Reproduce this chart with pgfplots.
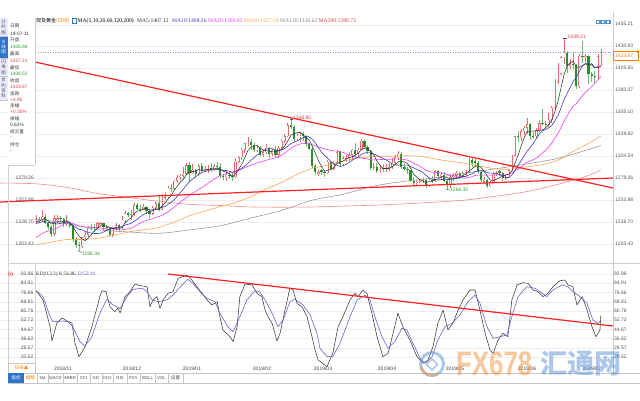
\documentclass[border=0pt]{standalone}
\usepackage{pgfplots}
\pgfplotsset{compat=1.18}
\usepackage{pgfplotstable}
\usepackage{fontspec}
\setmainfont{Liberation Sans}
\newfontfamily\cjk{Noto Sans CJK SC}
\newfontfamily\srf{Liberation Serif}
\newcommand\fs[1]{\fontsize{#1}{#1}\selectfont}
\definecolor{upc}{HTML}{E86A6A}
\definecolor{dnc}{HTML}{2E8B2E}
\definecolor{dnw}{HTML}{6DBB6D}
\definecolor{ma5}{HTML}{333333}
\definecolor{ma10}{HTML}{3C3CB4}
\definecolor{ma20}{HTML}{F03CF0}
\definecolor{ma60}{HTML}{FFA550}
\definecolor{ma120}{HTML}{9A9A9A}
\definecolor{ma200}{HTML}{F08C8C}
\definecolor{trend}{HTML}{FF2020}
\definecolor{kc}{HTML}{3A3A3A}
\definecolor{dc}{HTML}{5A5AD0}
\definecolor{lbl}{HTML}{555555}
\definecolor{tabblue}{HTML}{2F74C9}
\definecolor{hi}{HTML}{E03C3C}
\definecolor{lo}{HTML}{2E9E2E}
\definecolor{wmo}{HTML}{F39A4B}
\definecolor{wmb}{HTML}{5B8FD6}

\pgfplotstableread{
i o h l c
0 1231 1237 1226 1232
1 1230 1235 1227 1232
2 1232 1243 1229 1235
6 1215 1237 1213 1233
7 1231 1237 1227 1233
10 1226 1237 1224 1227
15 1201 1212 1199 1211
16 1211 1217 1207 1214
17 1214 1224 1212 1222
18 1222 1226 1219 1223
20 1222 1229 1221 1227
21 1225 1229 1224 1227
25 1214 1223 1211 1221
26 1221 1228 1219 1225
28 1222 1236 1221 1231
29 1231 1241 1228 1239
31 1237 1242 1231 1238
32 1238 1250 1236 1248
35 1243 1249 1242 1246
38 1238 1247 1237 1245
39 1245 1252 1244 1250
41 1243 1261 1242 1258
43 1257 1270 1256 1268
45 1267 1277 1265 1276
46 1276 1283 1274 1280
47 1280 1284 1277 1282
48 1282 1292 1279 1284
49 1284 1296 1283 1294
51 1285 1295 1284 1289
53 1284 1295 1282 1293
55 1288 1293 1286 1289
56 1289 1294 1285 1291
58 1288 1295 1287 1293
62 1280 1288 1276 1283
65 1280 1302 1279 1298
66 1298 1305 1296 1303
67 1303 1314 1300 1312
68 1312 1320 1308 1319
69 1319 1326 1316 1321
72 1311 1317 1309 1314
74 1306 1311 1303 1309
75 1309 1318 1307 1314
77 1307 1313 1305 1311
79 1306 1316 1302 1314
80 1314 1324 1311 1322
81 1322 1330 1320 1327
82 1327 1342 1326 1340
85 1324 1331 1322 1328
86 1326 1332 1321 1328
92 1284 1288 1281 1286
95 1285 1300 1284 1298
97 1290 1299 1289 1297
98 1297 1311 1295 1309
100 1295 1305 1293 1302
101 1300 1306 1298 1302
102 1302 1309 1299 1306
103 1306 1313 1300 1312
105 1307 1314 1304 1312
106 1312 1324 1311 1322
110 1291 1297 1289 1292
112 1287 1294 1285 1291
114 1290 1295 1286 1291
115 1291 1296 1287 1292
116 1292 1302 1290 1297
117 1297 1306 1295 1303
118 1303 1310 1300 1307
124 1273 1277 1270 1275
125 1275 1277 1273 1276
126 1276 1279 1273 1277
128 1270 1278 1269 1277
130 1276 1288 1275 1287
132 1281 1286 1278 1283
135 1271 1283 1268 1280
136 1280 1285 1276 1282
137 1282 1287 1280 1285
139 1281 1287 1279 1284
140 1284 1289 1282 1286
141 1286 1302 1285 1300
146 1275 1280 1274 1277
148 1270 1276 1269 1274
149 1274 1286 1273 1284
150 1284 1287 1281 1285
153 1279 1284 1277 1280
154 1280 1290 1279 1288
155 1288 1306 1287 1305
156 1305 1328 1304 1327
158 1326 1336 1322 1333
159 1333 1339 1329 1337
160 1337 1348 1330 1341
163 1327 1337 1325 1334
164 1334 1346 1332 1342
167 1340 1354 1338 1346
168 1346 1362 1343 1360
169 1360 1393 1357 1390
170 1390 1411 1387 1399
171 1399 1419 1398 1418
172 1418 1439.21 1410 1423
174 1408 1416 1404 1410
177 1385 1422 1383 1420
179 1418 1422 1413 1420
183 1396 1422 1393 1419
184 1408.86 1427.21 1408.52 1423.97
}\tup

\pgfplotstableread{
i o h l c
3 1235 1238 1226 1228
4 1228 1230 1220 1223
5 1223 1225 1211 1215
8 1233 1236 1229 1232
9 1232 1233 1223 1226
11 1227 1229 1222 1224
12 1224 1225 1206 1209
13 1209 1211 1199 1202
14 1202 1206 1196.34 1201
19 1223 1226 1217 1222
22 1227 1228 1220 1223
23 1223 1225 1219 1222
24 1222 1223 1211 1214
27 1225 1226 1218 1222
30 1239 1240 1234 1237
33 1248 1250 1242 1244
34 1244 1248 1240 1243
36 1246 1247 1238 1241
37 1241 1244 1233 1238
40 1250 1259 1241 1243
42 1258 1263 1254 1257
44 1268 1272 1263 1267
50 1294 1298 1276 1285
52 1289 1290 1279 1284
54 1293 1296 1286 1288
57 1291 1296 1286 1288
59 1293 1298 1289 1292
60 1292 1296 1279 1282
61 1282 1284 1277 1280
63 1283 1286 1278 1282
64 1282 1286 1276 1280
70 1321 1324 1311 1317
71 1317 1319 1309 1311
73 1314 1316 1304 1306
76 1314 1315 1302 1307
78 1311 1316 1303 1306
83 1340 1346.80 1336 1338
84 1338 1340 1321 1324
87 1330 1332 1322 1328
88 1328 1329 1315 1318
89 1318 1320 1311 1313
90 1313 1315 1291 1293
91 1293 1295 1283 1286
93 1288 1290 1283 1286
94 1286 1289 1280 1285
96 1298 1299 1288 1290
99 1309 1310 1292 1295
104 1312 1320 1303 1307
107 1322 1324 1313 1315
108 1315 1317 1307 1310
109 1310 1311 1288 1291
111 1292 1296 1285 1287
113 1291 1295 1286 1290
119 1307 1309 1290 1292
120 1292 1297 1289 1290
121 1290 1292 1284 1288
122 1288 1289 1275 1276
123 1276 1280 1271 1273
127 1277 1278 1268 1270
129 1277 1281 1273 1276
131 1287 1289 1279 1281
133 1283 1286 1275 1276
134 1276 1278 1266.35 1271
138 1285 1286 1278 1281
142 1300 1303 1292 1297
143 1299 1301 1292 1297
144 1297 1299 1284 1286
145 1286 1288 1275 1277
147 1277 1278 1268 1270
151 1287 1288 1282 1285
152 1285 1286 1276 1279
157 1327 1333 1321 1326
161 1341 1342 1323 1328
162 1328 1332 1324 1327
165 1342 1358 1340 1341
166 1341 1345 1337 1340
173 1423 1425 1400 1408
175 1410 1424 1405 1409
176 1409 1410 1382 1385
178 1420 1437 1411 1418
180 1420 1421 1387 1399
181 1399 1401 1390 1397
182 1397 1402 1388 1396
}\tdn

\pgfplotstableread{
i m5 m10 m20
0 1228.8 1227.0 1210.65
1 1229.8 1227.8 1213.15
2 1231.4 1229.1 1215.3
3 1232.6 1228.8 1217.3
4 1230.0 1228.5 1218.25
5 1226.6 1227.7 1218.9
6 1226.8 1228.3 1220.5
7 1226.4 1228.9 1222.0
8 1227.2 1229.9 1224.15
9 1227.8 1228.9 1226.05
10 1230.2 1228.4 1227.7
11 1228.4 1227.6 1227.7
12 1223.6 1225.0 1227.05
13 1217.6 1222.4 1225.6
14 1212.6 1220.2 1224.35
15 1209.4 1219.8 1223.75
16 1207.4 1217.9 1223.1
17 1210.0 1216.8 1222.85
18 1214.2 1215.9 1222.9
19 1218.4 1215.5 1222.2
20 1221.6 1215.5 1221.95
21 1224.2 1215.8 1221.7
22 1224.4 1217.2 1221.1
23 1224.2 1219.2 1220.8
24 1222.6 1220.5 1220.35
25 1221.4 1221.5 1220.65
26 1221.0 1222.6 1220.25
27 1220.8 1222.6 1219.7
28 1222.6 1223.4 1219.65
29 1227.6 1225.1 1220.3
30 1230.8 1226.1 1220.8
31 1233.4 1227.2 1221.5
32 1238.6 1229.7 1223.45
33 1241.2 1231.9 1225.55
34 1242.0 1234.8 1227.65
35 1243.8 1237.3 1229.4
36 1244.4 1238.9 1230.75
37 1242.4 1240.5 1231.55
38 1242.6 1241.9 1232.65
39 1244.0 1243.0 1234.05
40 1243.4 1243.6 1234.85
41 1246.8 1245.6 1236.4
42 1250.6 1246.5 1238.1
43 1255.2 1248.9 1240.4
44 1258.6 1251.3 1243.05
45 1265.2 1254.3 1245.8
46 1269.6 1258.2 1248.55
47 1274.6 1262.6 1251.55
48 1277.8 1266.5 1254.2
49 1283.2 1270.9 1256.95
50 1285.0 1275.1 1259.35
51 1286.8 1278.2 1261.9
52 1287.2 1280.9 1263.7
53 1289.0 1283.4 1266.15
54 1287.8 1285.5 1268.4
55 1288.6 1286.8 1270.55
56 1289.0 1287.9 1273.05
57 1289.8 1288.5 1275.55
58 1289.8 1289.4 1277.95
59 1290.6 1289.2 1280.05
60 1289.2 1288.9 1282.0
61 1287.0 1288.0 1283.1
62 1286.0 1287.9 1284.4
63 1283.8 1286.8 1285.1
64 1281.4 1286.0 1285.75
65 1284.6 1286.9 1286.85
66 1289.2 1288.1 1288.0
67 1295.0 1290.5 1289.5
68 1302.4 1293.1 1291.25
69 1310.6 1296.0 1292.6
70 1314.4 1299.5 1294.2
71 1316.0 1302.6 1295.3
72 1316.4 1305.7 1296.8
73 1313.8 1308.1 1297.45
74 1311.4 1311.0 1298.5
75 1310.8 1312.6 1299.75
76 1310.0 1313.0 1300.55
77 1309.4 1312.9 1301.7
78 1309.4 1311.6 1302.35
79 1310.4 1310.9 1303.45
80 1312.0 1311.4 1305.45
81 1316.0 1313.0 1307.8
82 1321.8 1315.6 1310.65
83 1328.2 1318.8 1313.45
84 1330.2 1320.3 1315.65
85 1331.4 1321.7 1317.15
86 1331.6 1323.8 1318.4
87 1329.2 1325.5 1319.2
88 1325.2 1326.7 1319.15
89 1323.0 1326.6 1318.75
90 1316.0 1323.7 1317.55
91 1307.6 1319.6 1316.3
92 1299.2 1314.2 1314.9
93 1292.8 1309.0 1313.9
94 1287.2 1305.1 1312.7
95 1288.2 1302.1 1311.9
96 1289.0 1298.3 1311.05
97 1291.2 1295.2 1310.35
98 1295.8 1294.3 1310.5
99 1297.8 1292.5 1309.55
100 1298.6 1293.4 1308.55
101 1301.0 1295.0 1307.3
102 1302.8 1297.0 1305.6
103 1303.4 1299.6 1304.3
104 1305.8 1301.8 1303.45
105 1307.8 1303.2 1302.65
106 1311.8 1306.4 1302.35
107 1313.6 1308.2 1301.7
108 1313.2 1308.3 1301.3
109 1310.0 1307.9 1300.2
110 1306.0 1306.9 1300.15
111 1299.0 1305.4 1300.2
112 1294.2 1303.9 1300.45
113 1290.2 1301.7 1300.65
114 1290.2 1300.1 1300.95
115 1290.2 1298.1 1300.65
116 1292.2 1295.6 1301.0
117 1294.6 1294.4 1301.3
118 1298.0 1294.1 1301.2
119 1298.2 1294.2 1301.05
120 1297.8 1294.0 1300.45
121 1296.0 1294.1 1299.75
122 1290.6 1292.6 1298.25
123 1283.8 1290.9 1296.3
124 1280.4 1289.3 1294.7
125 1277.6 1287.7 1292.9
126 1275.4 1285.7 1290.65
127 1274.2 1282.4 1288.4
128 1275.0 1279.4 1286.75
129 1275.2 1277.8 1286.0
130 1277.4 1277.5 1285.75
131 1278.2 1276.8 1285.45
132 1280.8 1277.5 1285.05
133 1280.6 1277.8 1284.35
134 1279.6 1277.4 1283.35
135 1278.2 1277.8 1282.75
136 1278.4 1278.3 1282.0
137 1278.8 1279.8 1281.1
138 1279.8 1280.2 1279.8
139 1282.4 1281.0 1279.4
140 1283.6 1280.9 1279.2
141 1287.2 1282.8 1279.8
142 1289.6 1284.2 1280.85
143 1292.8 1286.3 1282.05
144 1293.2 1287.8 1282.6
145 1291.4 1287.5 1282.65
146 1286.8 1287.0 1282.65
147 1281.4 1285.5 1282.65
148 1276.8 1284.8 1282.5
149 1276.4 1284.8 1282.9
150 1278.0 1284.7 1282.8
151 1279.6 1283.2 1283.0
152 1281.4 1281.4 1282.8
153 1282.6 1279.7 1283.0
154 1283.4 1279.9 1283.85
155 1287.4 1282.7 1285.1
156 1295.8 1287.7 1287.35
157 1305.2 1293.3 1289.4
158 1315.8 1299.2 1292.0
159 1325.6 1304.5 1294.65
160 1332.8 1310.1 1297.4
161 1333.0 1314.4 1298.8
162 1333.2 1319.2 1300.3
163 1333.4 1324.6 1302.15
164 1334.4 1330.0 1304.95
165 1334.4 1333.6 1308.15
166 1336.8 1334.9 1311.3
167 1340.6 1336.9 1315.1
168 1345.8 1339.6 1319.4
169 1355.4 1344.9 1324.7
170 1367.0 1350.7 1330.4
171 1382.6 1359.7 1337.05
172 1398.0 1369.3 1344.25
173 1407.6 1376.7 1350.65
174 1411.6 1383.5 1356.75
175 1413.6 1390.3 1361.95
176 1407.0 1394.8 1364.85
177 1406.4 1402.2 1369.55
178 1408.4 1408.0 1373.8
179 1410.4 1411.0 1377.95
180 1408.4 1411.0 1380.85
181 1410.8 1408.9 1384.3
182 1406.0 1406.2 1387.75
183 1406.2 1407.3 1392.0
184 1407.12 1408.26 1396.05
}\tma

\pgfplotsset{candle/.style={draw=none, mark=none, forget plot, error bars/.cd, y dir=plus, y explicit, error mark=none}}

\begin{document}
\begin{tikzpicture}
\useasboundingbox (0pt,0pt) rectangle (640pt,400pt);

% ---------------- main price panel ----------------
\begin{axis}[at={(0pt,140pt)}, anchor=south west, width=613pt, height=248pt, scale only axis,
  xmin=-11.73, xmax=187.95, ymin=1185.04, ymax=1470.02,
  axis line style={draw=none}, xtick=\empty,
  ytick={1203.43,1228.70,1253.98,1279.26,1304.54,1329.82,1355.10,1380.37,1405.65,1430.93,1455.21},
  yticklabel={}, major tick length=0pt, ymajorgrids, grid style={gray!14, line width=0.3pt},
  clip=true]
% wicks
\addplot[candle, error bar style={line width=0.6pt, draw=upc}] table[x=i, y=l, y error plus expr=\thisrow{h}-\thisrow{l}] {\tup};
\addplot[candle, error bar style={line width=0.6pt, draw=dnw}] table[x=i, y=l, y error plus expr=\thisrow{h}-\thisrow{l}] {\tdn};
% bodies
\addplot[candle, error bar style={line width=2.2pt, draw=upc}] table[x=i, y=o, y error plus expr=\thisrow{c}-\thisrow{o}] {\tup};
\addplot[candle, error bar style={line width=1.1pt, draw=white}] table[x=i, y expr=\thisrow{o}+0.55, y error plus expr={max(\thisrow{c}-\thisrow{o}-1.1,0)}] {\tup};
\addplot[candle, error bar style={line width=2.2pt, draw=dnc}] table[x=i, y=c, y error plus expr=\thisrow{o}-\thisrow{c}] {\tdn};
% long moving averages
\addplot[ma200, line width=0.6pt, smooth] coordinates {(-11.7,1273.5) (0,1272.6) (10,1268.5) (20,1261.5) (30,1257) (40,1252.4) (50,1249) (60,1247.6) (70,1246) (80,1245.7) (90,1246) (100,1247) (110,1248) (120,1249.6) (130,1251.5) (140,1254) (150,1258.5) (160,1263.75) (170,1272) (180,1282.1) (184,1288.73)};
\addplot[ma120, line width=0.6pt, smooth] coordinates {(0,1232.1) (10,1227.1) (20,1219.9) (30,1217.3) (40,1215.7) (50,1219.6) (60,1224.4) (70,1233.3) (80,1242) (90,1253.8) (100,1260.6) (110,1270) (120,1275.5) (130,1279.6) (140,1285.1) (150,1290) (160,1295.5) (170,1301.8) (180,1312) (184,1316.62)};
\addplot[ma60, line width=0.6pt, smooth] coordinates {(0,1202.5) (5,1205.6) (10,1208.6) (15,1208.6) (20,1209.9) (25,1213.2) (30,1217.2) (35,1219.7) (40,1222.5) (45,1228.45) (50,1235.95) (55,1241.2) (60,1246.3) (65,1251.1) (70,1258.1) (75,1266.6) (80,1274.1) (85,1283.3) (90,1290.4) (95,1294.1) (100,1298.7) (105,1302.2) (110,1304) (115,1304.1) (120,1304.8) (125,1304.2) (130,1301.2) (135,1298.4) (140,1296.1) (145,1292.7) (150,1289.6) (155,1289.5) (160,1292.35) (165,1294.6) (170,1299.65) (175,1309.9) (180,1319.15) (184,1327.58)};
% short moving averages
\addplot[ma20, line width=0.6pt, line join=round] table[x=i, y=m20] {\tma};
\addplot[ma10, line width=0.6pt, line join=round] table[x=i, y=m10] {\tma};
\addplot[ma5, line width=0.55pt, line join=round] table[x=i, y=m5] {\tma};
% trend lines
\addplot[trend, line width=1.2pt] coordinates {(-11.73,1421.33) (187.95,1267.78)};
\addplot[trend, line width=1.2pt] coordinates {(-11.73,1251.69) (187.95,1279.27)};
% last price line
\addplot[color=blue!45, dotted, line width=0.5pt] coordinates {(-3.58,1423.97) (187.95,1423.97)};
\end{axis}

% ---------------- KD panel ----------------
\begin{axis}[at={(0pt,27pt)}, anchor=south west, width=613pt, height=108pt, scale only axis,
  xmin=-11.73, xmax=187.95, ymin=6.56, ymax=100.81,
  axis line style={draw=none}, xtick=\empty,
  ytick={20.52,28.57,36.62,44.67,52.72,60.76,68.81,76.86,84.91,92.96},
  yticklabel={}, major tick length=0pt, ymajorgrids, grid style={gray!14, line width=0.3pt},
  clip=true]
\addplot[kc, line width=0.55pt, line join=round] coordinates {(0,78.4) (2.3,70.3) (4.6,46.9) (5.2,34.5) (6.8,50.2) (8.5,54.6) (10.1,51.9) (11.7,50.2) (12.7,32.7) (14.0,20.8) (16.0,29.5) (18.2,46.9) (20.8,73.2) (21.5,78.4) (22.8,77.5) (24.1,64.4) (25.7,60.1) (26.7,63.3) (27.4,58.9) (29.0,73.2) (30.6,77.5) (32.2,84.2) (33.9,82.8) (36.2,81.9) (37.1,64.4) (38.1,70.3) (39.4,73.2) (40.4,63.0) (41.4,70.3) (43.0,76.1) (44.6,77.5) (46.3,89.2) (49.2,92.1) (50.8,87.7) (52.4,81.9) (54.1,76.1) (55.7,70.3) (57.3,65.9) (59.0,68.8) (59.9,55.7) (60.9,44.1) (63.2,38.2) (64.2,33.9) (65.5,46.9) (66.4,73.2) (68.1,84.2) (70.4,83.4) (72.0,76.1) (73.6,73.2) (74.6,61.5) (75.6,55.7) (76.9,49.9) (78.5,34.5) (79.5,41.2) (81.1,61.5) (82.7,80.5) (83.7,79.0) (85.0,67.4) (86.6,64.4) (88.3,55.7) (89.9,38.2) (90.9,26.6) (91.9,17.9) (94.8,12.1) (96.7,24.0) (98.4,46.9) (100.0,55.7) (102.3,70.3) (103.9,76.1) (104.9,73.2) (106.5,79.0) (107.8,76.1) (109.4,58.7) (111.1,38.2) (113.0,20.8) (114.7,23.7) (116.3,41.2) (117.9,58.7) (119.5,46.9) (121.8,35.4) (124.1,20.8) (126.1,15.0) (127.7,17.9) (129.3,29.5) (130.9,49.9) (132.6,61.5) (134.2,44.1) (135.8,49.9) (137.5,61.5) (139.1,70.3) (141.4,79.0) (143.0,79.0) (144.6,61.5) (146.3,41.2) (147.9,26.6) (148.9,23.7) (150.5,35.4) (152.1,41.2) (153.7,38.2) (155.0,70.3) (156.7,83.4) (158.6,85.4) (160.3,84.8) (161.9,79.0) (163.5,77.5) (165.1,73.2) (166.8,76.1) (168.4,81.9) (170.7,87.1) (172.3,87.7) (173.3,83.4) (174.9,81.9) (176.2,65.9) (177.9,73.2) (179.5,61.5) (181.1,46.9) (182.4,38.2) (183.7,44.1) (184,56.86)};
\addplot[dc, line width=0.55pt, line join=round] coordinates {(0,78.4) (2.3,73.2) (4.6,55.7) (5.5,51.3) (8.5,51.9) (10.4,51.3) (12.0,46.9) (14.3,33.9) (15.9,30.1) (18.2,38.2) (20.8,58.7) (23.1,70.9) (25.1,65.9) (27.4,63.0) (29.6,73.2) (31.6,79.6) (34.5,80.5) (36.2,77.5) (37.8,70.3) (39.7,68.8) (42.7,70.3) (44.6,74.6) (47.6,83.4) (49.5,88.3) (51.1,84.8) (53.4,77.5) (55.7,71.7) (58.3,68.8) (59.9,58.7) (62.5,46.9) (64.2,42.6) (66.4,55.7) (68.7,70.3) (71.3,78.4) (72.9,77.5) (74.6,70.3) (76.9,58.7) (78.8,46.9) (80.5,52.8) (82.7,68.8) (84.4,70.9) (87.0,65.9) (89.3,57.2) (91.5,41.2) (92.5,28.1) (94.8,20.8) (96.7,20.8) (99.0,32.5) (102.3,55.7) (104.6,70.3) (107.2,74.6) (108.8,70.3) (110.4,55.7) (112.7,38.2) (114.7,28.1) (116.9,33.9) (119.2,45.6) (120.8,44.1) (122.8,32.5) (125.1,19.4) (126.7,15.0) (129.0,20.8) (130.9,35.4) (133.2,46.9) (135.5,49.9) (138.1,57.2) (140.7,68.8) (143.0,74.6) (144.6,67.4) (146.9,46.9) (148.9,36.8) (151.1,38.2) (153.4,39.7) (155.0,55.7) (157.0,73.2) (159.9,81.9) (162.5,80.5) (164.2,77.5) (166.4,73.2) (168.4,79.0) (171.3,83.4) (173.3,81.9) (174.9,77.5) (177.2,73.2) (179.5,67.4) (181.4,52.8) (183.1,49.9) (184,52.10)};
\addplot[trend, line width=1.2pt] coordinates {(43.0,92.96) (187.95,47.58)};
\end{axis}

% ---------------- frame, labels and widgets ----------------
\begin{scope}[x=1pt,y=1pt]
\draw[gray!40, line width=0.4pt] (613,27) -- (613,388);
\draw[gray!40, line width=0.4pt] (8,137) -- (640,137);
\draw[gray!35, line width=0.4pt] (8,17) -- (8,382);
\draw[gray!35, line width=0.4pt] (35,27) -- (35,137);

% right price labels
\foreach \v [count=\k from 0] in {1455.21,1430.93,1405.65,1380.37,1355.10,1329.82,1304.54,1279.26,1253.98,1228.70,1203.43}
  \node[font=\fs{5}, text=lbl, inner sep=0pt, anchor=west] at (615,376-22*\k) {\v};
% left price labels
\node[font=\fs{5}, text=lbl, inner sep=0pt, anchor=east] at (34,222) {1279.26};
\node[font=\fs{5}, text=lbl, inner sep=0pt, anchor=east] at (34,200) {1253.98};
\node[font=\fs{5}, text=lbl, inner sep=0pt, anchor=east] at (34,178) {1228.70};
\node[font=\fs{5}, text=lbl, inner sep=0pt, anchor=east] at (34,156) {1203.43};
% KD labels
\foreach \v [count=\k from 0] in {92.96,84.91,76.86,68.81,60.76,52.72,44.67,36.62,28.57,20.52}{
  \node[font=\fs{5}, text=lbl, inner sep=0pt, anchor=east] at (33.5,126-9.222*\k) {\v};
  \node[font=\fs{5}, text=lbl, inner sep=0pt, anchor=west] at (614,126-9.222*\k) {\v};
}

% header
\node[font=\cjk\fs{5}, inner sep=0pt, anchor=west] at (36,379) {现货黄金};
\node[font=\cjk\fs{5}, text=orange, inner sep=0pt, anchor=west] at (56,379) {(日线)};
\draw[tabblue, line width=0.4pt] (72.5,376.5) rectangle (76.5,381.5);
\node[font=\srf\fs{5.6}, inner sep=0pt, anchor=west] at (77.5,379) {MA(5,10,20,60,120,200)};
\node[font=\srf\fs{5.6}, text=ma5, inner sep=0pt, anchor=west] at (137,379) {MA5:1407.12};
\node[font=\srf\fs{5.6}, text=ma10, inner sep=0pt, anchor=west] at (172,379) {MA10:1408.26};
\node[font=\srf\fs{5.6}, text=ma20, inner sep=0pt, anchor=west] at (208,379) {MA20:1396.05};
\node[font=\srf\fs{5.6}, text=ma60, inner sep=0pt, anchor=west] at (244,379) {MA60:1327.58};
\node[font=\srf\fs{5.6}, text=gray, inner sep=0pt, anchor=west] at (280,379) {MA120:1316.62};
\node[font=\srf\fs{5.6}, text=hi, inner sep=0pt, anchor=west] at (318.5,379) {MA200:1288.73};
% top-right buttons
\foreach \bx in {596,601,606}{
  \fill[tabblue!80] (\bx,375.5) rectangle (\bx+4.5,380);
  \fill[white] (\bx+1.3,377) rectangle (\bx+3.2,378.5);
}
% last price box
\fill[white] (613.5,339.5) rectangle (638,348.5);
\draw[orange, line width=0.4pt] (613.5,339.5) rectangle (638,348.5);
\node[font=\fs{5}, text=orange, inner sep=0pt, anchor=west] at (615,344) {1423.97};
\draw[orange, line width=0.5pt] (636.5,347.5) -- (638.5,347.5) (637.5,346.5) -- (637.5,349.5);

% extreme labels
\draw[black!70, line width=0.5pt] (562.5,361.5) -- (566.5,361.5);
\node[font=\fs{5}, text=hi, inner sep=0pt, anchor=west] at (567.5,363) {1439.21};
\draw[black!70, line width=0.5pt] (289.5,281) -- (293,281);
\node[font=\fs{5}, text=hi, inner sep=0pt, anchor=west] at (293,282.5) {1346.80};
\draw[black!70, line width=0.5pt] (78,149.5) -- (81.5,147.5);
\node[font=\fs{5}, text=lo, inner sep=0pt, anchor=west] at (82,146) {1196.34};
\draw[black!70, line width=0.5pt] (446,210.5) -- (449.5,210);
\node[font=\fs{5}, text=lo, inner sep=0pt, anchor=west] at (450,210) {1266.35};

% KD header
\draw[red!60, line width=0.5pt] (10.5,126) circle (2.2);
\fill[red!60] (10.5,126) circle (0.9);
\node[font=\srf\fs{5.2}, text=kc, inner sep=0pt, anchor=west] at (36,126) {KD(9,3,3) K:56.86};
\node[font=\srf\fs{5.2}, text=dc, inner sep=0pt, anchor=west] at (78,126) {D:52.10};

% left tab strip
\fill[blue!8] (0,364) rectangle (7.5,382);
\fill[tabblue] (0,342) rectangle (7.5,364);
\fill[blue!8] (0,324) rectangle (7.5,342);
\fill[blue!8] (0,300) rectangle (7.5,324);
\draw[gray!45, line width=0.3pt] (0,364) -- (7.5,364) (0,342) -- (7.5,342) (0,324) -- (7.5,324) (0,300) -- (7.5,300);
\node[font=\cjk\fontsize{4.5}{5.4}\selectfont, text=black!70, align=center, inner sep=0pt] at (3.75,373) {分\\时\\图};
\node[font=\cjk\fontsize{4.5}{5.4}\selectfont, text=white, align=center, inner sep=0pt] at (3.75,353) {K\\线\\图};
\node[font=\cjk\fontsize{4.5}{5.4}\selectfont, text=black!70, align=center, inner sep=0pt] at (3.75,333) {闪\\电\\图};
\node[font=\cjk\fontsize{4.5}{5.4}\selectfont, text=black!70, align=center, inner sep=0pt] at (3.75,312) {合\\约\\资\\料};

% info panel
\fill[white] (8.2,235) rectangle (35,382);
\draw[gray!40, line width=0.4pt] (35,235) -- (35,382) (8,235) -- (35,235);
\begin{scope}[every node/.style={inner sep=0pt, anchor=west}]
\node[font=\cjk\fs{4.6}, text=black!75] at (10,374) {日期};
\node[font=\fs{4.8}, text=black!80] at (10,366) {19-07-11};
\node[font=\cjk\fs{4.6}, text=black!75] at (10,360) {开盘};
\node[font=\fs{4.8}, text=lo] at (10,353) {1408.86};
\node[font=\cjk\fs{4.6}, text=black!75] at (10,346) {最高};
\node[font=\fs{4.8}, text=hi] at (10,339) {1427.21};
\node[font=\cjk\fs{4.6}, text=black!75] at (10,332) {最低};
\node[font=\fs{4.8}, text=lo] at (10,326) {1408.52};
\node[font=\cjk\fs{4.6}, text=black!75] at (10,319) {收盘};
\node[font=\fs{4.8}, text=hi] at (10,313) {1423.97};
\node[font=\cjk\fs{4.6}, text=black!75] at (10,306) {涨跌};
\node[font=\fs{4.8}, text=hi] at (10,300) {+4.95};
\node[font=\cjk\fs{4.6}, text=black!75] at (10,294) {涨幅};
\node[font=\fs{4.8}, text=hi] at (10,288) {+0.35\%};
\node[font=\cjk\fs{4.6}, text=black!75] at (10,281) {振幅};
\node[font=\fs{4.8}, text=black!80] at (10,275) {0.62\%};
\node[font=\cjk\fs{4.6}, text=black!75] at (10,268) {成交量};
\node[font=\fs{4.8}, text=black!80] at (10,262) {-};
\node[font=\cjk\fs{4.6}, text=black!75] at (10,255) {持仓};
\node[font=\fs{4.8}, text=black!80] at (10,248) {-};
\end{scope}

% date labels
\begin{scope}[every node/.style={font=\fs{5}, text=black!75, inner sep=0pt}]
\node at (63,31) {2018/11};
\node at (132,31) {2018/12};
\node at (192,31) {2019/01};
\node at (262,31) {2019/02};
\node at (323,31) {2019/03};
\node at (387,31) {2019/04};
\node at (455,31) {2019/05};
\node at (527,31) {2019/06};
\node at (592,31) {2019/07};
\end{scope}
\draw[gray!45, line width=0.4pt] (8,27) rectangle (35,37);
\node[font=\cjk\fs{4.6}, text=orange, inner sep=0pt] at (21.5,32) {日线▲};

% bottom tab bar
\draw[gray!45, line width=0.4pt] (8,17) rectangle (640,27);
\fill[tabblue] (8,17) rectangle (24,27);
\node[font=\cjk\fs{4.6}, text=white, inner sep=0pt] at (16,22) {指标};
\node[font=\cjk\fs{4.6}, text=orange, inner sep=0pt] at (30.5,22) {模板};
\foreach \sx in {37,48,63,77,90,102,113,127,140,155,168,183}
  \draw[gray!45, line width=0.4pt] (\sx,17) -- (\sx,27);
\begin{scope}[every node/.style={font=\fs{4.3}, text=black!70, inner sep=0pt}]
\node at (42.5,22) {Ma};
\node at (55.5,22) {MACD};
\node at (70,22) {ARBR};
\node at (83.5,22) {CCI};
\node at (96,22) {KD};
\node at (107.5,22) {KDJ};
\node at (120,22) {RSI};
\node at (133.5,22) {PSY};
\node at (147.5,22) {BOLL};
\node at (161.5,22) {VOL};
\node[font=\cjk\fs{4.6}] at (175.5,22) {设置};
\end{scope}

% watermark
\begin{scope}[opacity=0.5]
\draw[wmb, line width=3pt] (432,36) circle (11.5);
\draw[wmo, line width=3pt] (432,36) ++(195:11.5) arc (195:300:11.5);
\draw[wmb, line width=1.6pt] (432,30) -- (437.5,35.5) -- (432,41) -- (426.5,35.5) -- cycle;
\end{scope}
\node[font=\bfseries\fs{34}, text=wmo, text opacity=0.55, inner sep=0pt, anchor=west, xscale=0.76] at (456,36) {FX678};
\node[font=\cjk\bfseries\fs{27}, text=wmb, text opacity=0.5, inner sep=0pt, anchor=west] at (540,36) {汇通网};
\end{scope}
\end{tikzpicture}
\end{document}
